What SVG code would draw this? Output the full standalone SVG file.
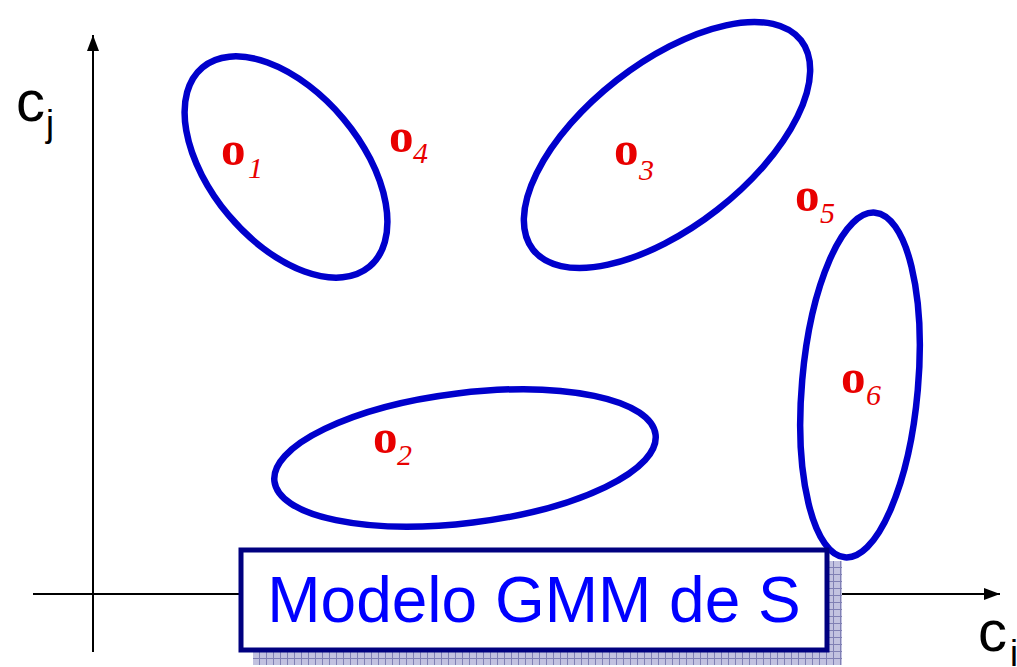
<svg xmlns="http://www.w3.org/2000/svg" width="1017" height="667" viewBox="0 0 1017 667">
<style>
.ell{fill:none;stroke:#0000CC;stroke-width:6.5}
.ax{stroke:#000;stroke-width:2;fill:none}
.o{font-family:"Liberation Serif",serif;font-weight:bold;font-size:49px;fill:#E80000}
.sub{font-family:"Liberation Serif",serif;font-style:italic;font-weight:normal;font-size:30px;fill:#E80000}
.axl{font-family:"Liberation Sans",Arial,sans-serif;font-size:58px;fill:#000}
.axs{font-family:"Liberation Sans",Arial,sans-serif;font-size:36px;fill:#000}
.title{font-family:"Liberation Sans",Arial,sans-serif;font-size:64px;fill:#0000FF}
</style>
<defs>
<marker id="arr" markerWidth="16" markerHeight="12" refX="16" refY="6" orient="auto" markerUnits="userSpaceOnUse">
<path d="M0,0 L16,6 L0,12 Z" fill="#000"/>
</marker>
<pattern id="grid" width="7" height="7" patternUnits="userSpaceOnUse">
<rect width="7" height="7" fill="#c2c2e0"/>
<path d="M0,0.5 H7 M0.5,0 V7" stroke="#8080b4" stroke-width="1"/>
</pattern>
</defs>
<rect width="1017" height="667" fill="#fff"/>
<g id="connectors">
<line class="ax" x1="93" y1="652" x2="93" y2="35" marker-end="url(#arr)"/>
<line class="ax" x1="33" y1="594" x2="1000" y2="594" marker-end="url(#arr)"/>
</g>
<g id="axis-labels">
<text x="16" y="121"><tspan class="axl">c</tspan><tspan class="axs" x="46" y="136">j</tspan></text>
<text x="978" y="651"><tspan class="axl">c</tspan><tspan class="axs" x="1010" y="666">i</tspan></text>
</g>
<g id="cluster1">
<ellipse class="ell" cx="286" cy="167" rx="130" ry="75" transform="rotate(50 286 167)"/>
</g>
<g id="cluster3">
<ellipse class="ell" cx="667" cy="145" rx="170" ry="82" transform="rotate(-38 667 145)"/>
</g>
<g id="cluster2">
<ellipse class="ell" cx="465" cy="458" rx="192" ry="65" transform="rotate(-7 465 458)"/>
</g>
<g id="cluster6">
<ellipse class="ell" cx="860" cy="385" rx="58" ry="173" transform="rotate(5 860 385)"/>
</g>
<g id="o1"><text class="o" x="221" y="165">o<tspan class="sub" x="248" y="178">1</tspan></text></g>
<g id="o4"><text class="o" x="389" y="152">o<tspan class="sub" x="413" y="163">4</tspan></text></g>
<g id="o3"><text class="o" x="614" y="165">o<tspan class="sub" x="639" y="180">3</tspan></text></g>
<g id="o5"><text class="o" x="795" y="211">o<tspan class="sub" x="820" y="223">5</tspan></text></g>
<g id="o2"><text class="o" x="373" y="453">o<tspan class="sub" x="397" y="465">2</tspan></text></g>
<g id="o6"><text class="o" x="841" y="393">o<tspan class="sub" x="866" y="405">6</tspan></text></g>
<g id="model-box">
<rect x="253" y="561" width="589" height="104" fill="url(#grid)"/>
<rect x="241" y="550" width="586" height="100" fill="#fff" stroke="#000080" stroke-width="5"/>
<text class="title" x="534" y="622" text-anchor="middle">Modelo GMM de S</text>
</g>
</svg>
